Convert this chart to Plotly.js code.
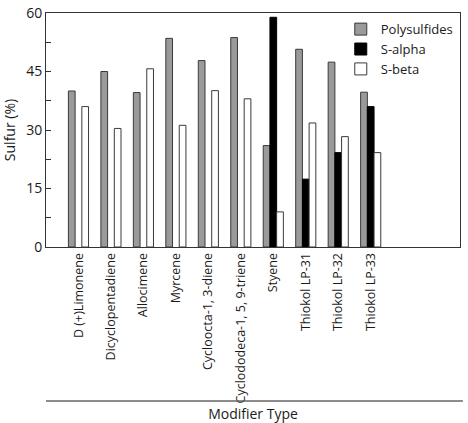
<!DOCTYPE html>
<html>
<head>
<meta charset="utf-8">
<script src="https://cdn.plot.ly/plotly-3.0.1.min.js"></script>
<style>html,body{margin:0;padding:0;background:#fff;}#chart{width:468px;height:423px;}</style>
</head>
<body>
<div id="chart"></div>
<script>
var categories = ["D (+)Limonene", "Dicyclopentadiene", "Allocimene", "Myrcene", "Cycloocta-1, 3-diene", "Cyclododeca-1, 5, 9-triene", "Styene", "Thiokol LP-31", "Thiokol LP-32", "Thiokol LP-33"];
var polysulfides = [40.0, 45.0, 39.6, 53.5, 47.8, 53.7, 26.0, 50.7, 47.4, 39.7];
var sAlpha = [null, null, null, null, null, null, 58.9, 17.4, 24.2, 36.0];
var sBeta = [36.0, 30.4, 45.7, 31.2, 40.1, 38.0, 9.0, 31.8, 28.3, 24.2];
var yTickVals = [0, 7.5, 15, 22.5, 30, 37.5, 45, 52.5, 60];
var yTickText = ["0", "", "15", "", "30", "", "45", "", "60"];

var FONT = "Open Sans, Noto Sans, sans-serif";
var idx = categories.map(function (_, i) { return i; });

var traces = [
  {type: "bar", name: "Polysulfides", x: idx, y: polysulfides,
   marker: {color: "#9a9a9a", line: {color: "#3a3a3a", width: 1}}},
  {type: "bar", name: "S-alpha", x: idx, y: sAlpha,
   marker: {color: "#000000", line: {color: "#000000", width: 1}}},
  {type: "bar", name: "S-beta", x: idx, y: sBeta,
   marker: {color: "#ffffff", line: {color: "#3a3a3a", width: 1}}}
];

var layout = {
  width: 468, height: 423,
  margin: {l: 46, r: 8, t: 13, b: 176},
  paper_bgcolor: "#ffffff", plot_bgcolor: "#ffffff",
  font: {family: FONT, color: "#1a1a1a"},
  barmode: "group", bargap: 0.38, bargroupgap: 0,
  showlegend: true,
  legend: {x: 0.712, y: 0.995, xanchor: "left", yanchor: "top",
           bgcolor: "rgba(0,0,0,0)", borderwidth: 0,
           font: {family: FONT, size: 13, color: "#1a1a1a"}, tracegroupgap: 0},
  xaxis: {
    range: [-1, 11.75], tickmode: "array", tickvals: idx, ticktext: categories,
    tickangle: -90, ticks: "", showgrid: false, zeroline: false,
    showline: true, linecolor: "#333", linewidth: 1, mirror: true,
    tickfont: {family: FONT, size: 12.5, color: "#1a1a1a"},
    title: {text: "Modifier Type", font: {family: FONT, size: 14, color: "#1a1a1a"}, standoff: 27}
  },
  yaxis: {
    range: [0, 60], tickmode: "array", tickvals: yTickVals, ticktext: yTickText,
    ticks: "inside", ticklen: 5, tickcolor: "#333", showgrid: false, zeroline: false,
    showline: true, linecolor: "#333", linewidth: 1, mirror: true,
    tickfont: {family: FONT, size: 14, color: "#1a1a1a"},
    title: {text: "Sulfur (%)", font: {family: FONT, size: 14, color: "#1a1a1a"}, standoff: 8}
  },
  shapes: [
    {type: "line", xref: "paper", yref: "paper", x0: 0, x1: 1.007, y0: -0.658, y1: -0.658,
     line: {color: "#666", width: 1.5}}
  ]
};

Plotly.newPlot("chart", traces, layout, {displayModeBar: false, staticPlot: true});
</script>
</body>
</html>
